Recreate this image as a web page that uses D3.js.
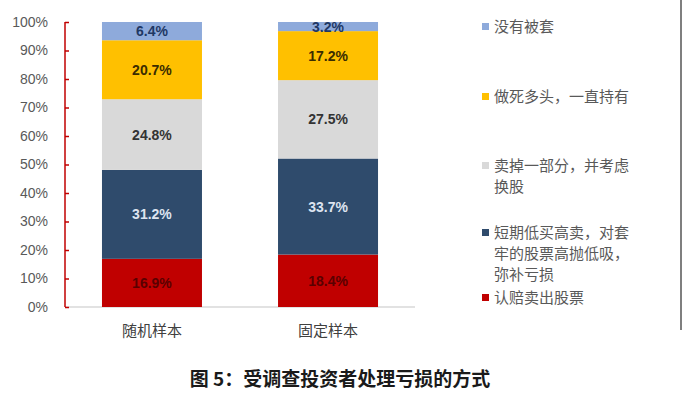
<!DOCTYPE html>
<html lang="zh">
<head>
	<meta charset="UTF-8">
	<title>图5</title>
	<script src="https://cdn.jsdelivr.net/npm/d3@7/dist/d3.min.js"></script>
	<style>
		html,body{margin:0;padding:0;background:#fff;}
		svg{display:block;}
	</style>
</head>
<body>
	<svg id="svg" width="684" height="394"></svg>
	<script>
		// data, bottom of stack first
		var categories = ["随机样本", "固定样本"];
		var seriesNames = ["认赔卖出股票", "短期低买高卖，对套牢的股票高抛低吸，弥补亏损", "卖掉一部分，并考虑换股", "做死多头，一直持有", "没有被套"];
		var redValues = [16.9, 18.4];
		var navyValues = [31.2, 33.7];
		var grayValues = [24.8, 27.5];
		var yellowValues = [20.7, 17.2];
		var blueValues = [6.4, 3.2];
		var yTicks = [0, 10, 20, 30, 40, 50, 60, 70, 80, 90, 100];

		var colors = ["#c00000", "#2f4b6c", "#d9d9d9", "#ffc000", "#8eaadb"];
		var labelColors = ["#5a0000", "#dde4f0", "#333333", "#3a2c00", "#1f3864"];
		var legendLines = [
			["认赔卖出股票"],
			["短期低买高卖，对套", "牢的股票高抛低吸，", "弥补亏损"],
			["卖掉一部分，并考虑", "换股"],
			["做死多头，一直持有"],
			["没有被套"]
		];
		var legendY = [298, 233, 166, 97, 27];

		var table = categories.map(function(c, i){
			return {cat:c, s0:redValues[i], s1:navyValues[i], s2:grayValues[i], s3:yellowValues[i], s4:blueValues[i]};
		});
		var keys = ["s0","s1","s2","s3","s4"];
		var stacked = d3.stack().keys(keys)(table);

		var svg = d3.select("#svg");
		var x = d3.scaleBand().domain(categories).range([65, 415]).paddingInner(0.432).paddingOuter(0.21);
		var y = d3.scaleLinear().domain([0, 100]).range([307, 22]);

		// baseline
		svg.append("line").attr("x1", 65).attr("x2", 415).attr("y1", y(0)).attr("y2", y(0))
			.attr("stroke", "#d9d9d9").attr("stroke-width", 1.5);

		// bars
		var layers = svg.append("g").selectAll("g").data(stacked).enter().append("g")
			.attr("fill", function(d, i){ return colors[i]; });
		layers.selectAll("rect").data(function(d){ return d; }).enter().append("rect")
			.attr("x", function(d){ return x(d.data.cat); })
			.attr("width", x.bandwidth())
			.attr("y", function(d){ return y(d[1]); })
			.attr("height", function(d){ return y(d[0]) - y(d[1]); });

		// value labels
		stacked.forEach(function(layer, i){
			svg.append("g").selectAll("text").data(layer).enter().append("text")
				.attr("x", function(d){ return x(d.data.cat) + x.bandwidth()/2; })
				.attr("y", function(d){ return (y(d[0]) + y(d[1]))/2; })
				.attr("dy", "0.36em")
				.attr("text-anchor", "middle")
				.attr("font-family", "Liberation Sans, Arial, sans-serif")
				.attr("font-size", 14)
				.attr("font-weight", "bold")
				.attr("fill", labelColors[i])
				.text(function(d){ return (d[1] - d[0]).toFixed(1) + "%"; });
		});

		// y axis
		var yAxis = svg.append("g").attr("transform", "translate(65,0)")
			.call(d3.axisRight(y).tickValues(yTicks).tickSize(4).tickFormat(function(d){ return d + "%"; }));
		yAxis.select(".domain").attr("stroke", "#c00000").attr("stroke-width", 1.5).attr("d", "M0," + y(0) + "V" + y(100));
		yAxis.selectAll(".tick line").attr("stroke", "#c00000").attr("stroke-width", 1.5);
		yAxis.selectAll(".tick text").attr("x", -17).attr("text-anchor", "end")
			.attr("fill", "#595959").attr("font-size", 14)
			.attr("font-family", "Liberation Sans, Arial, sans-serif");

		// category labels
		svg.append("g").selectAll("text").data(categories).enter().append("text")
			.attr("x", function(d){ return x(d) + x.bandwidth()/2; })
			.attr("y", 336)
			.attr("text-anchor", "middle")
			.attr("font-family", "Noto Sans CJK SC, sans-serif")
			.attr("font-size", 15)
			.attr("fill", "#404040")
			.text(function(d){ return d; });

		// legend
		var legend = svg.append("g").selectAll("g").data(seriesNames).enter().append("g");
		legend.append("rect")
			.attr("x", 482).attr("y", function(d, i){ return legendY[i] - 4; })
			.attr("width", 7).attr("height", 7)
			.attr("fill", function(d, i){ return colors[i]; });
		legend.each(function(d, i){
			var g = d3.select(this);
			legendLines[i].forEach(function(line, j){
				g.append("text")
					.attr("x", 494).attr("y", legendY[i] + j*21)
					.attr("dy", "0.36em")
					.attr("font-family", "Noto Sans CJK SC, sans-serif")
					.attr("font-size", 15)
					.attr("fill", "#595959")
					.text(line);
			});
		});

		// right frame edge
		svg.append("line").attr("x1", 681).attr("x2", 681).attr("y1", 0).attr("y2", 330)
			.attr("stroke", "#555").attr("stroke-width", 1.5);

		// title
		svg.append("text")
			.attr("x", 340).attr("y", 386)
			.attr("text-anchor", "middle")
			.attr("font-family", "Noto Sans CJK SC, serif")
			.attr("font-size", 19)
			.attr("font-weight", "bold")
			.attr("fill", "#1a1a1a")
			.text("图 5：受调查投资者处理亏损的方式");
	</script>
</body>
</html>
